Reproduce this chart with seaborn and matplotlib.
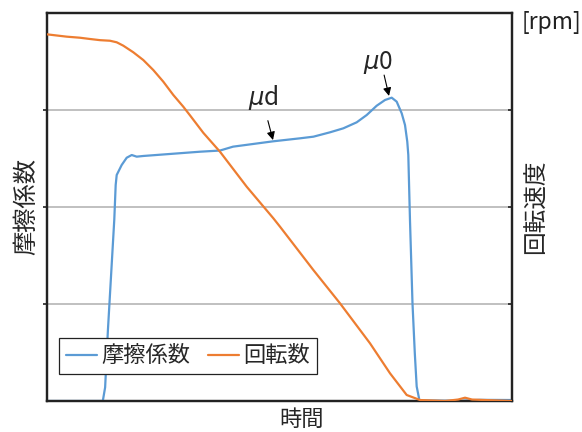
import matplotlib
matplotlib.use("Agg")
import matplotlib.pyplot as plt
import seaborn as sns
import pandas as pd

# Friction coefficient trace (time, value)
mu_time = [0.0, 12.0, 12.5, 13.1, 14.47, 14.77, 14.99, 16.06, 17.14, 18.22, 19.29,
           20.71, 32.9, 37.2, 40.0, 48.6, 54.4, 57.3, 60.86, 63.72, 66.6, 68.75,
           70.9, 72.69, 74.13, 75.2, 76.28, 76.99, 77.48, 77.7, 78.06, 78.6, 79.1,
           79.5, 80.1, 88.0, 93.0, 100.0]
mu_value = [0.0, 0.0, 0.14, 0.73, 1.87, 2.227, 2.33, 2.433, 2.508, 2.536, 2.519,
            2.526, 2.57, 2.582, 2.622, 2.677, 2.708, 2.725, 2.77, 2.811, 2.873, 2.948,
            3.044, 3.103, 3.127, 3.086, 2.966, 2.845, 2.673, 2.536, 1.866, 1.007, 0.49,
            0.15, 0.005, 0.0, 0.012, 0.01]

# Rotation speed trace (time, value)
rpm_time = [0.0, 4.24, 7.10, 9.25, 11.40, 13.55, 14.99, 16.41, 18.56, 20.71, 22.86,
            25.01, 27.16, 29.31, 30.75, 33.61, 37.20, 42.95, 48.67, 50.11, 57.27,
            63.01, 69.46, 73.76, 77.35, 80.22, 85.6, 88.4, 89.9, 91.4, 94.2, 100.0]
rpm_value = [3.780, 3.756, 3.745, 3.732, 3.720, 3.714, 3.698, 3.663, 3.595, 3.515, 3.412,
             3.292, 3.155, 3.034, 2.945, 2.765, 2.570, 2.209, 1.884, 1.797, 1.351,
             1.007, 0.595, 0.286, 0.062, 0.01, 0.0, 0.015, 0.034, 0.015, 0.01, 0.0]

series_names = ["摩擦係数", "回転数"]
line_colors = ["#5b9bd5", "#ed7d31"]

sns.set_style("white")
plt.rcParams["font.family"] = ["Noto Sans CJK JP", "DejaVu Sans"]
plt.rcParams["mathtext.fontset"] = "dejavusans"

fig = plt.figure(figsize=(5.82, 4.32), dpi=100)
ax = fig.add_axes([47 / 582, 1 - 401 / 432, 465 / 582, 388 / 432])
ax2 = ax.twinx()

mu_df = pd.DataFrame({"time": mu_time, "value": mu_value})
rpm_df = pd.DataFrame({"time": rpm_time, "value": rpm_value})

sns.lineplot(data=mu_df, x="time", y="value", ax=ax, color=line_colors[0],
             linewidth=1.6, label=series_names[0], legend=False, zorder=3)
sns.lineplot(data=rpm_df, x="time", y="value", ax=ax2, color=line_colors[1],
             linewidth=1.6, label=series_names[1], legend=False, zorder=3)

for a in (ax, ax2):
    a.set_xlim(0, 100)
    a.set_ylim(0, 4)
    a.set_yticks([1, 2, 3])
    a.set_yticklabels([])
    a.set_xticks([])
    a.set_xlabel("")
    a.set_ylabel("")
    for s in a.spines.values():
        s.set_color("#222222")
        s.set_linewidth(1.6)

ax.grid(axis="y", color="#c0c0c0", linewidth=1.4)
ax.set_axisbelow(True)
ax.tick_params(axis="y", direction="out", length=3, width=1.2, color="#222222",
               left=True, right=False)
ax2.tick_params(axis="y", direction="in", length=3, width=1.2, color="#222222",
                right=True, left=False)

ax.set_xlabel("時間", fontsize=16)
ax.xaxis.set_label_coords(255 / 465, -0.018, transform=ax.transAxes)
ax.xaxis.label.set_va("top")
ax.set_ylabel("摩擦係数", fontsize=17.5, labelpad=-1)
ax2.set_ylabel("回転速度", fontsize=17, labelpad=6)
fig.text(522 / 582, 1 - 22 / 432, "[rpm]", fontsize=16.5, va="center", ha="left",
         color="#222222")

# Static and dynamic friction markers
arrow = dict(arrowstyle="-|>", color="black", lw=0.8, mutation_scale=12,
             shrinkA=0, shrinkB=0)
ax.text(46.56, 3.13, r"$\mu$d", fontsize=17.5, ha="center", va="center")
ax.annotate("", xy=(48.6, 2.69), xytext=(47.5, 2.89), arrowprops=arrow)
ax.text(71.2, 3.49, r"$\mu$0", fontsize=17.5, ha="center", va="center")
ax.annotate("", xy=(73.55, 3.145), xytext=(72.5, 3.36), arrowprops=arrow)

handles = ax.get_lines()[:1] + ax2.get_lines()[:1]
leg = ax.legend(handles, series_names, loc="lower left",
                bbox_to_anchor=(12 / 465, 27 / 388), borderaxespad=0, ncol=2,
                fontsize=16, frameon=True, fancybox=False, framealpha=1,
                edgecolor="#222222", handlelength=1.4, handletextpad=0.2,
                columnspacing=0.8, borderpad=0.3)
leg.get_frame().set_linewidth(0.9)
leg.set_zorder(5)

fig.savefig("out.png", dpi=100)
